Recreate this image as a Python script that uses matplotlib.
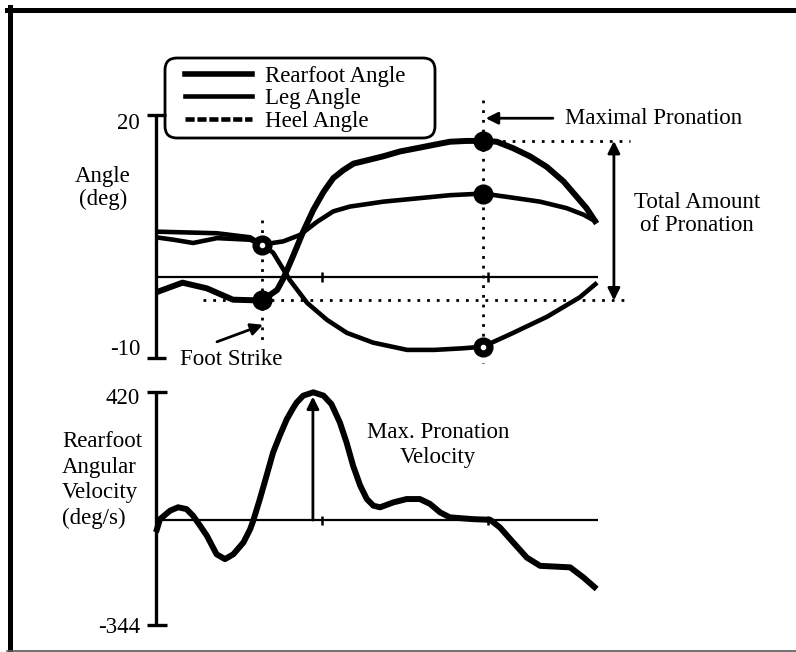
import matplotlib
matplotlib.use("Agg")
import matplotlib.pyplot as plt
from matplotlib.lines import Line2D
from matplotlib.patches import FancyBboxPatch
from matplotlib.transforms import IdentityTransform

W, H = 796, 652
plt.rcParams['font.family'] = ['Liberation Serif', 'DejaVu Serif']
FS = 16.5

# stance time (0-100 %), angles in degrees
time_rf = [0, 6, 11.5, 17.4, 24, 27.4, 28.8, 31.1, 33.3, 35.6, 37.9, 40.1, 42.4,
           44.7, 47.7, 51.4, 55.2, 59.0, 62.7, 66.5, 70.3, 74, 77.1, 80.8,
           84.6, 88.4, 92.2, 95.2, 97.4, 99.7]
rearfoot = [-1.9, -0.7, -1.4, -2.8, -2.9, -1.6, -0.2, 2.7, 5.6, 8.3, 10.5, 12.2, 13.2,
            14.0, 14.4, 14.9, 15.5, 15.9, 16.3, 16.7, 16.8, 16.8, 16.7, 15.9,
            14.9, 13.6, 11.8, 9.9, 8.5, 6.6]

time_leg = [0, 7, 13.8, 21.3, 24, 28.8, 32.6, 36.4, 40.1, 43.9, 47.7, 51.4,
            59.0, 66.5, 74, 79.3, 86.9, 92.9, 96.7, 99.7]
leg = [5.6, 5.5, 5.4, 4.9, 4.0, 4.4, 5.2, 6.8, 8.1, 8.7, 9.0, 9.3,
       9.7, 10.1, 10.3, 9.9, 9.3, 8.5, 7.7, 6.8]

time_heel = [0, 4, 8.4, 13.8, 21.3, 24, 26.5, 30.3, 34.2, 38.7, 43.2, 49.1,
             56.8, 63, 69.5, 74, 80.8, 88.5, 95.9, 99.8]
heel = [4.9, 4.6, 4.2, 4.8, 4.6, 4.0, 3.0, -0.4, -3.2, -5.3, -6.9, -8.1,
        -9.0, -9.0, -8.8, -8.6, -6.9, -4.9, -2.5, -0.7]

# rearfoot angular velocity (deg/s)
time_vel = [0, 0.9, 3.2, 5.0, 6.9, 8.4, 10.0, 11.5, 13.7, 15.6, 17.5, 19.8, 21.3,
            22.0, 23.5, 25.0, 26.5, 28.0, 29.6, 31.1, 31.8, 33.3, 35.6, 37.9,
            39.7, 41.6, 43.1, 44.6, 46.2, 47.7, 49.2, 50.7, 53.7, 56.7, 59.7,
            62.0, 64.3, 66.5, 71.8, 75.6, 77.8, 80.8, 83.9, 86.9, 93.7, 96.7, 99.7]
vel = [-40, 3, 31, 42, 36, 14, -19, -51, -112, -128, -112, -73, -30,
       -2, 69, 145, 222, 277, 331, 369, 385, 408, 419, 408,
       380, 320, 255, 178, 113, 69, 47, 42, 58, 69, 69,
       53, 25, 9, 3, 1, -24, -73, -123, -150, -155, -188, -226]

foot_strike = 24
max_pron = 74
angle_lim = [-10, 20]
vel_lim = [-344, 420]
x_ticks = [37.5, 75]

fig = plt.figure(figsize=(W / 100, H / 100), dpi=100)
ax1 = fig.add_axes([156 / W, 1 - 358 / H, 442 / W, 243 / H])
ax2 = fig.add_axes([156 / W, 1 - 625 / H, 442 / W, 233 / H])
for ax in (ax1, ax2):
    ax.set_xlim(0, 100)
    ax.axis('off')
ax1.set_ylim(*angle_lim)
ax2.set_ylim(*vel_lim)

axis_kw = dict(color='k', clip_on=False, solid_capstyle='butt')
dot_kw = dict(color='k', linestyle=(0, (1, 2.5)), lw=2, clip_on=False)

# ---- top panel: axes
ax1.plot([0, 0], angle_lim, lw=2.4, **axis_kw)
for v in angle_lim:
    ax1.plot([-2, 2.2], [v, v], lw=2.4, **axis_kw)
ax1.plot([0, 100], [0, 0], lw=1.6, **axis_kw)
for t in x_ticks:
    ax1.plot([t, t], [-0.6, 0.6], lw=1.8, **axis_kw)
ax1.text(-3.6, 18.9, '20', ha='right', va='center', fontsize=FS)
ax1.text(-3.6, -8.9, '-10', ha='right', va='center', fontsize=FS)
ax1.text(-12, 11.0, 'Angle\n(deg)', ha='center', va='center', fontsize=FS,
         linespacing=1.15)

# curves
ax1.plot(time_rf, rearfoot, color='k', lw=4.3, solid_joinstyle='round',
         solid_capstyle='butt', clip_on=False)
ax1.plot(time_leg, leg, color='k', lw=3.3, solid_joinstyle='round',
         solid_capstyle='butt', clip_on=False)
ax1.plot(time_heel, heel, color='k', lw=3.3, solid_joinstyle='round',
         solid_capstyle='butt', clip_on=False)

# guide lines
ax1.plot([foot_strike, foot_strike], [7.0, -8.4], **dot_kw)
ax1.plot([max_pron, max_pron], [21.9, -10.6], **dot_kw)
ax1.plot([max_pron, 107.2], [16.8, 16.8], **dot_kw)
ax1.plot([10.6, 107.2], [-2.9, -2.9], **dot_kw)

# key points
ax1.plot([foot_strike, max_pron], [-2.9, 16.8], 'o', color='k', ms=13.5, clip_on=False)
ax1.plot([max_pron], [10.3], 'o', color='k', ms=13.5, clip_on=False)
ax1.plot([foot_strike, max_pron], [4.0, -8.6], 'o', color='k', ms=13.5, clip_on=False)
ax1.plot([foot_strike, max_pron], [4.0, -8.6], 'o', color='white', ms=3, clip_on=False)

arrow_kw = dict(arrowstyle='-|>', color='k', lw=2, mutation_scale=18,
                shrinkA=0, shrinkB=0)
ax1.annotate('', xy=(74.6, 19.6), xytext=(89.8, 19.6), arrowprops=arrow_kw,
             annotation_clip=False)
ax1.text(92.5, 19.6, 'Maximal Pronation', ha='left', va='center', fontsize=FS)
ax1.annotate('', xy=(103.6, 16.8), xytext=(103.6, -2.9),
             arrowprops=dict(arrow_kw, arrowstyle='<|-|>'), annotation_clip=False)
ax1.text(122.4, 7.8, 'Total Amount\nof Pronation', ha='center', va='center',
         fontsize=FS, linespacing=1.15)
ax1.annotate('', xy=(24.2, -5.9), xytext=(13.8, -8.0), arrowprops=arrow_kw,
             annotation_clip=False)
ax1.text(5.4, -10.2, 'Foot Strike', ha='left', va='center', fontsize=FS)

# legend with a rounded box
handles = [Line2D([], [], color='k', lw=4.0),
           Line2D([], [], color='k', lw=3.3),
           Line2D([], [], color='k', lw=3.3, linestyle=(0, (2.0, 0.6)))]
labels = ['Rearfoot Angle', 'Leg Angle', 'Heel Angle']
ax1.legend(handles, labels, loc='upper left', bbox_to_anchor=(185 / W, 1 - 66 / H),
           bbox_transform=fig.transFigure, borderaxespad=0, borderpad=0,
           frameon=False, fontsize=FS, handlelength=2.93, handletextpad=0.57,
           labelspacing=0.06)
ax1.add_patch(FancyBboxPatch((165, H - 138), 270, 80,
                             boxstyle='round,pad=0,rounding_size=12',
                             transform=IdentityTransform(), facecolor='none',
                             edgecolor='k', lw=2, clip_on=False))

# ---- bottom panel
ax2.plot([0, 0], vel_lim, lw=2.4, **axis_kw)
for v in vel_lim:
    ax2.plot([-2, 2.4], [v, v], lw=2.4, **axis_kw)
ax2.plot([0, 100], [0, 0], lw=1.6, **axis_kw)
for t in x_ticks:
    ax2.plot([t, t], [-15, 15], lw=1.8, **axis_kw)
ax2.text(-3.6, 400, '420', ha='right', va='center', fontsize=FS)
ax2.text(-3.6, -351, '-344', ha='right', va='center', fontsize=FS)
ax2.text(-21.3, 131, 'Rearfoot\nAngular\nVelocity\n(deg/s)', ha='left',
         va='center', fontsize=FS, linespacing=1.3)

ax2.plot(time_vel, vel, color='k', lw=4.3, solid_joinstyle='round',
         solid_capstyle='butt', clip_on=False)
ax2.annotate('', xy=(35.5, 405), xytext=(35.5, 0), arrowprops=arrow_kw,
             annotation_clip=False)
ax2.text(63.8, 246, 'Max. Pronation\nVelocity', ha='center', va='center',
         fontsize=FS, linespacing=1.3)

# outer frame of the figure
fig.add_artist(Line2D([9.5 / W, 9.5 / W], [1.5 / H, 1 - 7 / H], transform=fig.transFigure,
                      color='k', lw=3.6))
fig.add_artist(Line2D([7 / W, 1], [1 - 9.5 / H, 1 - 9.5 / H], transform=fig.transFigure,
                      color='k', lw=3.6))
fig.add_artist(Line2D([7 / W, 1], [1.5 / H, 1.5 / H], transform=fig.transFigure,
                      color='0.35', lw=1.2))

fig.savefig('out.png', dpi=100)
